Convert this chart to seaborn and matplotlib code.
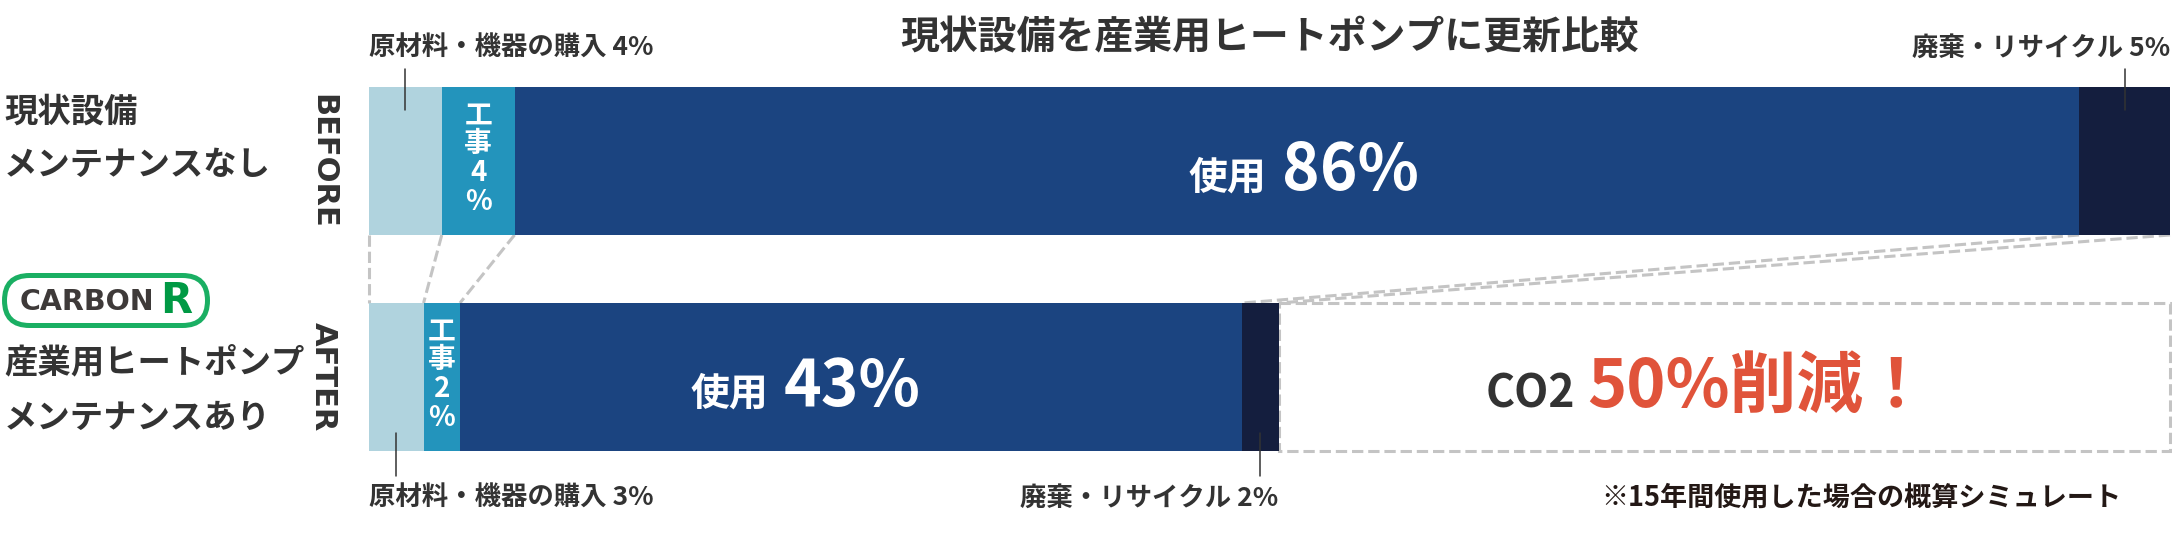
import matplotlib
matplotlib.use('Agg')
import matplotlib.pyplot as plt
from matplotlib.patches import FancyBboxPatch, Rectangle
import seaborn as sns
import pandas as pd
import numpy as np

# データ
periods = ['BEFORE', 'AFTER']
components = ['原材料・機器の購入', '工事', '使用', '廃棄・リサイクル']
before_values = [4, 4, 86, 5]
after_values = [3, 2, 43, 2]
colors = ['#b0d3de', '#2394bc', '#1b4480', '#141e3e']

title = '現状設備を産業用ヒートポンプに更新比較'
before_label = ['現状設備', 'メンテナンスなし']
after_label = ['産業用ヒートポンプ', 'メンテナンスあり']
co2_reduction = 50
note = '※15年間使用した場合の概算シミュレート'

sns.set_theme(style='white')
plt.rcParams['font.family'] = ['Noto Sans CJK JP', 'DejaVu Sans']

dark = '#333333'
dash_gray = '#c4c4c4'
BAR_H = 0.685

# 積み上げ用の累積値
rows = []
for p, vals in zip(periods, [before_values, after_values]):
    for c, v, s in zip(components, vals, np.cumsum(vals)):
        rows.append({'period': p, 'component': c, 'value': v, 'cum': s})
df = pd.DataFrame(rows)

fig = plt.figure(figsize=(21.72, 5.56), dpi=100)
ax = fig.add_axes([369 / 2172, 0, 1801 / 2172, 1])

# 大きい累積から描いて上に重ねる
for c, col in reversed(list(zip(components, colors))):
    sns.barplot(data=df[df.component == c], x='cum', y='period', order=periods,
                color=col, saturation=1, width=BAR_H, linewidth=0,
                errorbar=None, orient='h', ax=ax, zorder=2)

cb = np.concatenate([[0], np.cumsum(before_values)])
ca = np.concatenate([[0], np.cumsum(after_values)])
ax.set_xlim(0, cb[-1])
ax.set_ylim(1.8287, -0.7454)
ax.set_axis_off()

# 破線のつなぎ線
for xb, xa in zip(cb, ca):
    ax.plot([xb, xa], [BAR_H / 2, 1 - BAR_H / 2], color=dash_gray, lw=2.2,
            ls='--', clip_on=False, zorder=1)
ax.add_patch(Rectangle((ca[-1], 1 - BAR_H / 2), cb[-1] - ca[-1], BAR_H, fill=False,
                       ec=dash_gray, lw=2.2, ls='--', clip_on=False, zorder=1))

# タイトル
ax.text(cb[-1] / 2, -0.569, title, ha='center', va='center', fontsize=28,
        fontweight='bold', color=dark)

# 外側の注記
ax.text(0, -0.523, f'{components[0]} {before_values[0]}%', ha='left', va='center',
        fontsize=19, fontweight='bold', color=dark)
ax.text(cb[-1], -0.523, f'{components[3]} {before_values[3]}%', ha='right', va='center',
        fontsize=19, fontweight='bold', color=dark)
ax.text(0, 1.56, f'{components[0]} {after_values[0]}%', ha='left', va='center',
        fontsize=19, fontweight='bold', color=dark)
ax.text(ca[-1], 1.56, f'{components[3]} {after_values[3]}%', ha='right', va='center',
        fontsize=19, fontweight='bold', color=dark)
ax.text(96.3, 1.56, note, ha='right', va='center', fontsize=19.5,
        fontweight='bold', color='#231815')

for x, (y1, y2) in [(cb[0] + before_values[0] / 2, (-0.426, -0.236)),
                    (cb[3] + before_values[3] / 2, (-0.426, -0.236)),
                    (ca[0] + after_values[0] / 2, (1.259, 1.458)),
                    (ca[3] + after_values[3] / 2, (1.259, 1.458))]:
    ax.plot([x, x], [y1, y2], color=dark, lw=1.1, zorder=3)

# バー内のラベル
split_px = [-23, -75]
for i, (vals, cum) in enumerate([(before_values, cb), (after_values, ca)]):
    k_txt = '\n'.join(components[1]) + f'\n{vals[1]}\n%'
    ax.text(cum[1] + vals[1] / 2, i - 0.01, k_txt, ha='center', va='center',
            fontsize=20, fontweight='bold', color='white', linespacing=1.05, zorder=4)
    cx = cum[2] + vals[2] / 2
    ax.annotate(components[2], (cx, i + 0.134), xytext=(split_px[i] - 8, 0),
                textcoords='offset pixels', ha='right', va='baseline', fontsize=28,
                fontweight='bold', color='white', zorder=4)
    ax.annotate(f'{vals[2]}%', (cx, i + 0.134), xytext=(split_px[i] + 8, 0),
                textcoords='offset pixels', ha='left', va='baseline', fontsize=46,
                fontweight='bold', color='white', zorder=4)

# CO2 削減
bx = (ca[-1] + cb[-1]) / 2
ax.annotate('CO2', (bx, 1.139), xytext=(-149, 0), textcoords='offset pixels',
            ha='right', va='baseline', fontsize=32, fontweight='bold', color=dark)
ax.annotate(f'{co2_reduction}%削減！', (bx, 1.139), xytext=(-137, 0),
            textcoords='offset pixels', ha='left', va='baseline', fontsize=48,
            fontweight='bold', color='#e0533a')

# BEFORE / AFTER
for i, p in enumerate(periods):
    ax.text(-2.53, i, p, rotation=-90, ha='center', va='center', fontsize=22,
            fontweight='bold', family='DejaVu Sans', color=dark)

# 左側の説明
for txt, ypx in zip(before_label + after_label, [112, 165, 363, 418]):
    fig.text(4 / 2172, 1 - ypx / 556, txt, ha='left', va='center', fontsize=24,
             fontweight='bold', color=dark)

# ロゴ
green = '#1aaf63'
logo = FancyBboxPatch((0.045, 2.305), 2.03, 0.50, boxstyle='round,pad=0,rounding_size=0.25',
                      transform=fig.dpi_scale_trans, fc='white', ec=green, lw=3.6)
fig.add_artist(logo)
fig.text(20 / 2172, 1 - 302 / 556, 'CARBON', ha='left', va='center', fontsize=20.5,
         fontweight='bold', family='DejaVu Sans', color='#3e3a39')
fig.text(176 / 2172, 1 - 301 / 556, 'R', ha='center', va='center', fontsize=30,
         fontweight='bold', family='DejaVu Sans', color='#009944')

fig.savefig('out.png', dpi=100)
